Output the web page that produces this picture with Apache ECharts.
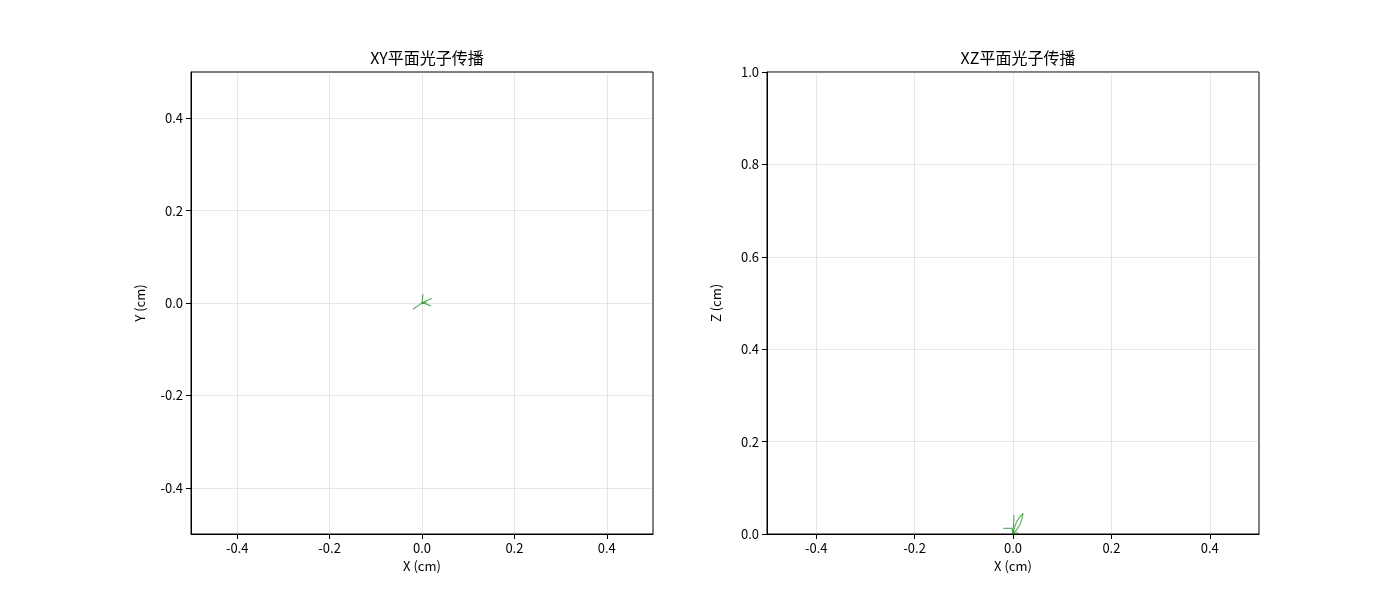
<!DOCTYPE html>
<html>
<head>
<meta charset="utf-8">
<script src="https://cdn.jsdelivr.net/npm/echarts@6/dist/echarts.min.js"></script>
<style>
  html, body { margin: 0; padding: 0; background: #fff; }
  #chart { width: 1400px; height: 600px; }
</style>
</head>
<body>
<div id="chart"></div>
<script>
// 光子轨迹 (每个光子一组 x / y / z 坐标, 单位 cm)
const photonX = [
  [0, 0.001, 0.002],
  [0, 0.003, 0.008, 0.015, 0.021],
  [0, 0.008, 0.014, 0.018, 0.020],
  [0, -0.002, -0.010, -0.020],
  [0, 0.004, 0.010]
];
const photonY = [
  [0, 0.010, 0.0195],
  [0, 0.002, 0.004, 0.007, 0.010],
  [0, -0.002, -0.004, -0.0055, -0.0065],
  [0, -0.002, -0.007, -0.0137],
  [0, 0.0005, 0.001]
];
const photonZ = [
  [0, 0.020, 0.041],
  [0, 0.014, 0.028, 0.038, 0.045],
  [0, 0.010, 0.020, 0.032, 0.044],
  [0, 0.012, 0.012, 0.012],
  [0, 0.002, 0.003]
];
const xyTicksX = [-0.4, -0.2, 0.0, 0.2, 0.4];
const xyTicksY = [-0.4, -0.2, 0.0, 0.2, 0.4];
const xzTicksZ = [0.0, 0.2, 0.4, 0.6, 0.8, 1.0];

const FONT = '"Noto Sans CJK SC", "DejaVu Sans", sans-serif';
const lineColor = 'rgba(0,128,0,0.6)';

function axis(gridIndex, min, max, ticks, name, isY) {
  return {
    type: 'value',
    gridIndex: gridIndex,
    min: min,
    max: max,
    name: name,
    nameLocation: 'middle',
    nameGap: isY ? 44 : 24,
    nameTextStyle: { color: '#000', fontSize: 13, fontFamily: FONT },
    axisLine: { show: true, onZero: false, lineStyle: { color: '#000', width: 1 } },
    axisTick: { show: true, length: 5, customValues: ticks, lineStyle: { color: '#000' } },
    axisLabel: {
      color: '#000', fontSize: 13, fontFamily: FONT, margin: 8,
      customValues: ticks,
      formatter: v => v.toFixed(1)
    },
    splitLine: { show: true, customValues: ticks, lineStyle: { color: 'rgba(176,176,176,0.3)', width: 1 } }
  };
}

const series = [];
photonX.forEach((xs, i) => {
  series.push({
    type: 'line', xAxisIndex: 0, yAxisIndex: 0,
    data: xs.map((x, k) => [x, photonY[i][k]]),
    showSymbol: false, silent: true,
    lineStyle: { color: lineColor, width: 1.2 }
  });
  series.push({
    type: 'line', xAxisIndex: 1, yAxisIndex: 1,
    data: xs.map((x, k) => [x, photonZ[i][k]]),
    showSymbol: false, silent: true,
    lineStyle: { color: lineColor, width: 1.2 }
  });
});

const chart = echarts.init(document.getElementById('chart'));
chart.setOption({
  animation: false,
  backgroundColor: '#fff',
  title: [
    { text: 'XY平面光子传播', left: 422, top: 45, textAlign: 'center',
      textStyle: { fontSize: 16, fontWeight: 'normal', color: '#000', fontFamily: FONT } },
    { text: 'XZ平面光子传播', left: 1013, top: 45, textAlign: 'center',
      textStyle: { fontSize: 16, fontWeight: 'normal', color: '#000', fontFamily: FONT } }
  ],
  grid: [
    { left: 191, right: 747, top: 72, bottom: 66, show: true, borderColor: '#000', borderWidth: 1 },
    { left: 767, right: 141, top: 72, bottom: 66, show: true, borderColor: '#000', borderWidth: 1 }
  ],
  xAxis: [
    axis(0, -0.5, 0.5, xyTicksX, 'X (cm)', false),
    axis(1, -0.5, 0.5, xyTicksX, 'X (cm)', false)
  ],
  yAxis: [
    axis(0, -0.5, 0.5, xyTicksY, 'Y (cm)', true),
    axis(1, 0, 1, xzTicksZ, 'Z (cm)', true)
  ],
  series: series
});
</script>
</body>
</html>
